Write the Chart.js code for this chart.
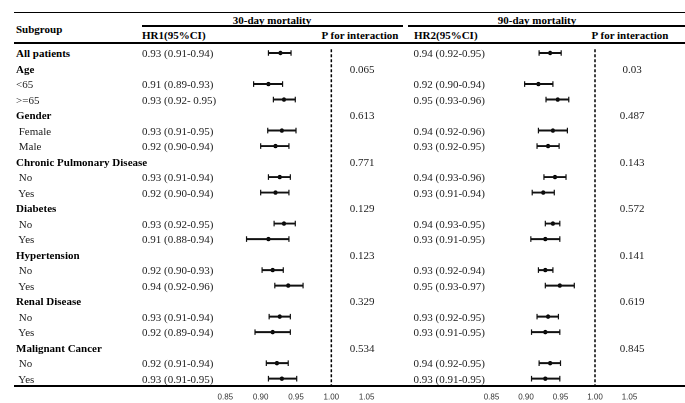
<!DOCTYPE html>
<html><head><meta charset="utf-8">
<script src="https://cdn.jsdelivr.net/npm/chart.js@4.4.1/dist/chart.umd.min.js"></script>
<style>
html,body{margin:0;padding:0;background:#fff;}
#wrap{position:relative;width:685px;height:403px;overflow:hidden;background:#fff;font-family:"Liberation Serif","Times New Roman",serif;font-size:11px;color:#222;}
.t{position:absolute;white-space:pre;line-height:14px;height:14px;}
.b{font-weight:bold;color:#000;}
.c{transform:translateX(-50%);}
.rule{position:absolute;background:#000;}
.cv{position:absolute;top:40px;}
</style></head><body>
<div id="wrap">
  <div class="rule" style="left:14px;top:11.5px;width:671px;height:1.5px"></div>
  <div class="rule" style="left:142px;top:25px;width:261px;height:1.5px"></div>
  <div class="rule" style="left:408px;top:25px;width:277px;height:1.5px"></div>
  <div class="rule" style="left:14px;top:42px;width:671px;height:1.5px"></div>
  <div class="rule" style="left:14px;top:385px;width:671px;height:2px"></div>
  <div class="t b" style="left:16px;top:22px">Subgroup</div>
  <div class="t b c" style="left:272px;top:13px">30-day mortality</div>
  <div class="t b c" style="left:537px;top:13px">90-day mortality</div>
  <div class="t b" style="left:142px;top:28px">HR1(95%CI)</div>
  <div class="t b c" style="left:360px;top:28px">P for interaction</div>
  <div class="t b" style="left:414px;top:28px">HR2(95%CI)</div>
  <div class="t b c" style="left:630px;top:28px">P for interaction</div>
  <div class="cv" style="left:186px"><canvas id="c1" width="220" height="368"></canvas></div>
  <div class="cv" style="left:453px"><canvas id="c2" width="215" height="368"></canvas></div>
</div>
<script>
// ---------- data ----------
const rowLabels = ["All patients","Age","<65",">=65","Gender"," Female"," Male","Chronic Pulmonary Disease"," No"," Yes","Diabetes"," No"," Yes","Hypertension"," No"," Yes","Renal Disease"," No"," Yes","Malignant Cancer"," No"," Yes"];
const rowIsGroup = [true,true,false,false,true,false,false,true,false,false,true,false,false,true,false,false,true,false,false,true,false,false];

const hr1Text = ["0.93 (0.91-0.94)","","0.91 (0.89-0.93)","0.93 (0.92- 0.95)","","0.93 (0.91-0.95)","0.92 (0.90-0.94)","","0.93 (0.91-0.94)","0.92 (0.90-0.94)","","0.93 (0.92-0.95)","0.91 (0.88-0.94)","","0.92 (0.90-0.93)","0.94 (0.92-0.96)","","0.93 (0.91-0.94)","0.92 (0.89-0.94)","","0.92 (0.91-0.94)","0.93 (0.91-0.95)"];
const p1Text = ["","0.065","","","0.613","","","0.771","","","0.129","","","0.123","","","0.329","","","0.534","",""];
const hr1Est  = [0.928,null,0.911,0.933,null,0.930,0.921,null,0.927,0.921,null,0.933,0.911,null,0.917,0.939,null,0.927,0.917,null,0.923,0.930];
const hr1Low  = [0.911,null,0.890,0.918,null,0.910,0.900,null,0.911,0.900,null,0.919,0.880,null,0.902,0.920,null,0.912,0.892,null,0.908,0.911];
const hr1High = [0.943,null,0.931,0.949,null,0.950,0.940,null,0.942,0.940,null,0.949,0.940,null,0.932,0.960,null,0.942,0.942,null,0.939,0.951];

const hr2Text = ["0.94 (0.92-0.95)","","0.92 (0.90-0.94)","0.95 (0.93-0.96)","","0.94 (0.92-0.96)","0.93 (0.92-0.95)","","0.94 (0.93-0.96)","0.93 (0.91-0.94)","","0.94 (0.93-0.95)","0.93 (0.91-0.95)","","0.93 (0.92-0.94)","0.95 (0.93-0.97)","","0.93 (0.92-0.95)","0.93 (0.91-0.95)","","0.94 (0.92-0.95)","0.93 (0.91-0.95)"];
const p2Text = ["","0.03","","","0.487","","","0.143","","","0.572","","","0.141","","","0.619","","","0.845","",""];
const hr2Est  = [0.935,null,0.918,0.946,null,0.939,0.932,null,0.942,0.925,null,0.939,0.928,null,0.928,0.949,null,0.932,0.928,null,0.935,0.928];
const hr2Low  = [0.919,null,0.898,0.929,null,0.918,0.916,null,0.926,0.909,null,0.928,0.907,null,0.918,0.928,null,0.916,0.908,null,0.919,0.908];
const hr2High = [0.951,null,0.939,0.962,null,0.960,0.948,null,0.958,0.941,null,0.949,0.949,null,0.939,0.970,null,0.947,0.949,null,0.950,0.949];

const tickValues = [0.85, 0.90, 0.95, 1.00, 1.05];
const axisMin = 0.80, axisMax = 1.10;
const refValue = 1.00;

// ---------- chart ----------
const rowIds = rowLabels.map((_, i) => String(i));

const refLinePlugin = {
  id: 'refLine',
  afterDatasetsDraw(chart) {
    const {ctx, chartArea, scales} = chart;
    const x = scales.x.getPixelForValue(refValue);
    ctx.save();
    ctx.strokeStyle = '#000';
    ctx.lineWidth = 1.5;
    ctx.setLineDash([3, 2]);
    ctx.beginPath();
    ctx.moveTo(x, chartArea.top + 4);
    ctx.lineTo(x, chartArea.bottom);
    ctx.stroke();
    ctx.restore();
  }
};

function makeChart(id, est, low, high) {
  const pointDs = (data, style, r) => ({
    type: 'line', data, showLine: false, pointStyle: style, pointRadius: r, pointHoverRadius: r,
    rotation: style === 'line' ? 90 : 0,
    borderColor: '#111', backgroundColor: '#000', borderWidth: style === 'line' ? 1.2 : 0
  });
  return new Chart(document.getElementById(id), {
    type: 'bar',
    data: {
      labels: rowIds,
      datasets: [
        { type: 'bar', data: rowIds.map((_, i) => low[i] == null ? null : [low[i], high[i]]),
          backgroundColor: '#111', borderWidth: 0, barThickness: 1.3 },
        pointDs(low, 'line', 2.8),
        pointDs(high, 'line', 2.8),
        pointDs(est, 'circle', 2.2)
      ]
    },
    options: {
      indexAxis: 'y', responsive: false, animation: false, devicePixelRatio: 2,
      layout: { padding: { top: 5.25, left: 0, right: 0, bottom: 0 } },
      plugins: { legend: { display: false }, tooltip: { enabled: false } },
      scales: {
        y: { type: 'category', display: false, offset: true },
        x: {
          type: 'linear', min: axisMin, max: axisMax,
          grid: { display: false, drawTicks: false }, border: { display: false },
          afterBuildTicks: s => { s.ticks = tickValues.map(v => ({ value: v })); },
          ticks: { padding: 6, font: { family: 'Liberation Sans', size: 8 }, color: '#333',
                   callback: v => Number(v).toFixed(2) }
        }
      }
    },
    plugins: [refLinePlugin]
  });
}

const ch1 = makeChart('c1', hr1Est, hr1Low, hr1High);
const ch2 = makeChart('c2', hr2Est, hr2Low, hr2High);

// ---------- table text, aligned on the chart's row scale ----------
const wrap = document.getElementById('wrap');
function addText(txt, left, y, cls) {
  if (!txt) return;
  const d = document.createElement('div');
  d.className = 't ' + (cls || '');
  d.textContent = txt;
  d.style.left = left + 'px';
  d.style.top = (y - 7) + 'px';
  wrap.appendChild(d);
}
const canvasTop = 40;
rowLabels.forEach((lab, i) => {
  const y = canvasTop + ch1.scales.y.getPixelForValue(i);
  addText(lab, 16, y, rowIsGroup[i] ? 'b' : '');
  addText(hr1Text[i], 142, y);
  addText(p1Text[i], 362, y, 'c');
  addText(hr2Text[i], 413.5, y);
  addText(p2Text[i], 632, y, 'c');
});
</script>
</body></html>
